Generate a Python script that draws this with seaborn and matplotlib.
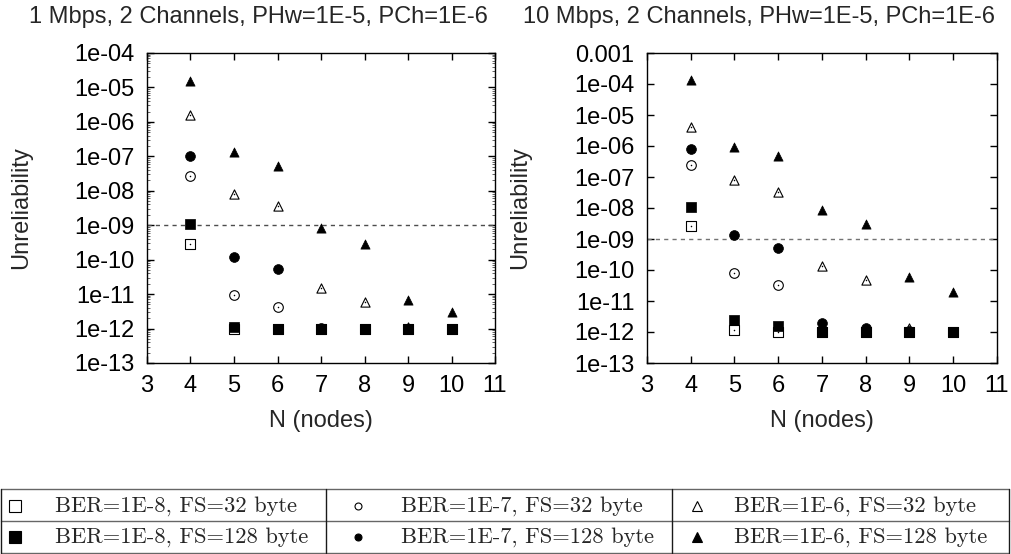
import numpy as np
import pandas as pd
import matplotlib
matplotlib.use("Agg")
import matplotlib.pyplot as plt
import seaborn as sns
from matplotlib.ticker import FixedLocator, FixedFormatter, LogLocator, NullFormatter, NullLocator

# x values (number of nodes)
nodes = [4, 5, 6, 7, 8, 9, 10]

# 1 Mbps panel
mb1_ber8_fs32 = [2.8e-10, 1.0e-12, 1.0e-12, 1.0e-12, 1.0e-12, 1.0e-12, 1.0e-12]
mb1_ber8_fs128 = [1.1e-9, 1.1e-12, 1.0e-12, 1.0e-12, 1.0e-12, 1.0e-12, 1.0e-12]
mb1_ber7_fs32 = [2.7e-8, 9.3e-12, 4.3e-12, 1.0e-12, 1.0e-12, 1.0e-12, 1.0e-12]
mb1_ber7_fs128 = [1.05e-7, 1.2e-10, 5.3e-11, 1.05e-12, 1.0e-12, 1.0e-12, 1.0e-12]
mb1_ber6_fs32 = [1.6e-6, 8.3e-9, 3.5e-9, 1.5e-11, 5.9e-12, 1.1e-12, 1.0e-12]
mb1_ber6_fs128 = [1.5e-5, 1.3e-7, 5.3e-8, 8.3e-10, 2.9e-10, 6.7e-12, 3.0e-12]

# 10 Mbps panel
mb10_ber8_fs32 = [2.7e-9, 1.15e-12, 1.0e-12, 1.0e-12, 1.0e-12, 1.0e-12, 1.0e-12]
mb10_ber8_fs128 = [1.1e-8, 2.5e-12, 1.55e-12, 1.0e-12, 1.0e-12, 1.0e-12, 1.0e-12]
mb10_ber7_fs32 = [2.5e-7, 8.1e-11, 3.2e-11, 1.0e-12, 1.0e-12, 1.0e-12, 1.0e-12]
mb10_ber7_fs128 = [8.1e-7, 1.3e-9, 5.1e-10, 1.9e-12, 1.3e-12, 1.05e-12, 1.0e-12]
mb10_ber6_fs32 = [4.0e-6, 8.0e-8, 3.4e-8, 1.35e-10, 4.7e-11, 1.3e-12, 1.0e-12]
mb10_ber6_fs128 = [1.3e-4, 9.0e-7, 4.7e-7, 8.5e-9, 3.0e-9, 5.9e-11, 1.9e-11]

threshold = 1e-9

titles = ["1 Mbps, 2 Channels, PHw=1E-5, PCh=1E-6",
          "10 Mbps, 2 Channels, PHw=1E-5, PCh=1E-6"]
x_ticks = [3, 4, 5, 6, 7, 8, 9, 10, 11]
y_ticks_left = [1e-4, 1e-5, 1e-6, 1e-7, 1e-8, 1e-9, 1e-10, 1e-11, 1e-12, 1e-13]
y_labels_left = ["1e-04", "1e-05", "1e-06", "1e-07", "1e-08", "1e-09",
                 "1e-10", "1e-11", "1e-12", "1e-13"]
y_ticks_right = [1e-3] + y_ticks_left
y_labels_right = ["0.001"] + y_labels_left

series_labels = ["BER=1E-8, FS=32 byte", "BER=1E-7, FS=32 byte", "BER=1E-6, FS=32 byte",
                 "BER=1E-8, FS=128 byte", "BER=1E-7, FS=128 byte", "BER=1E-6, FS=128 byte"]

panels = [
    {"BER=1E-8, FS=32 byte": mb1_ber8_fs32, "BER=1E-8, FS=128 byte": mb1_ber8_fs128,
     "BER=1E-7, FS=32 byte": mb1_ber7_fs32, "BER=1E-7, FS=128 byte": mb1_ber7_fs128,
     "BER=1E-6, FS=32 byte": mb1_ber6_fs32, "BER=1E-6, FS=128 byte": mb1_ber6_fs128},
    {"BER=1E-8, FS=32 byte": mb10_ber8_fs32, "BER=1E-8, FS=128 byte": mb10_ber8_fs128,
     "BER=1E-7, FS=32 byte": mb10_ber7_fs32, "BER=1E-7, FS=128 byte": mb10_ber7_fs128,
     "BER=1E-6, FS=32 byte": mb10_ber6_fs32, "BER=1E-6, FS=128 byte": mb10_ber6_fs128},
]

# marker, filled, size for each series
style = {
    "BER=1E-8, FS=32 byte": ("s", False, 52),
    "BER=1E-8, FS=128 byte": ("s", True, 60),
    "BER=1E-7, FS=32 byte": ("o", False, 48),
    "BER=1E-7, FS=128 byte": ("o", True, 50),
    "BER=1E-6, FS=32 byte": ("^", False, 44),
    "BER=1E-6, FS=128 byte": ("^", True, 44),
}
draw_order = ["BER=1E-6, FS=128 byte", "BER=1E-6, FS=32 byte", "BER=1E-7, FS=32 byte",
              "BER=1E-7, FS=128 byte", "BER=1E-8, FS=32 byte", "BER=1E-8, FS=128 byte"]

sns.set_style("ticks")
plt.rcParams["font.family"] = ["Liberation Sans", "DejaVu Sans"]
plt.rcParams["axes.linewidth"] = 1.0
FS = 17

W, H = 1012, 554
fig = plt.figure(figsize=(W / 100, H / 100), dpi=100)

ax_rects = [[147 / W, 1 - 363 / H, 348 / W, 310 / H],
            [647 / W, 1 - 363 / H, 350 / W, 310 / H]]
title_x = [258 / W, 759 / W]
y_sets = [(y_ticks_left, y_labels_left, 1e-13, 1e-4, True),
          (y_ticks_right, y_labels_right, 1e-13, 1e-3, False)]

for i in range(2):
    ax = fig.add_axes(ax_rects[i])
    rows = []
    for key, vals in panels[i].items():
        for n, v in zip(nodes, vals):
            rows.append({"N": n, "U": v, "series": key})
    df = pd.DataFrame(rows)

    ax.axhline(threshold, color="0.3" if i == 0 else "0.45", lw=1.0,
               dashes=(3, 3), zorder=1)

    for key in draw_order:
        marker, filled, size = style[key]
        sub = df[df["series"] == key]
        if filled:
            sns.scatterplot(data=sub, x="N", y="U", marker=marker, s=size,
                            color="black", edgecolor="black", linewidth=0.5,
                            ax=ax, zorder=3)
        else:
            sns.scatterplot(data=sub, x="N", y="U", marker=marker, s=size,
                            color="black", facecolor="white", edgecolor="black",
                            linewidth=0.8, ax=ax, zorder=3)
            sns.scatterplot(data=sub, x="N", y="U", marker="o", s=1.2,
                            color="black", linewidth=0, ax=ax, zorder=3)

    ticks, labels, ylo, yhi, minor = y_sets[i]
    ax.set_yscale("log")
    ax.set_ylim(ylo, yhi)
    ax.set_xlim(3, 11)
    ax.xaxis.set_major_locator(FixedLocator(x_ticks))
    ax.set_xticklabels([str(t) for t in x_ticks])
    ax.yaxis.set_major_locator(FixedLocator(ticks))
    ax.yaxis.set_major_formatter(FixedFormatter(labels))
    if minor:
        ax.yaxis.set_minor_locator(LogLocator(base=10, subs=(2, 3, 4, 5, 6, 7, 8, 9), numticks=20))
    else:
        ax.yaxis.set_minor_locator(NullLocator())
    ax.yaxis.set_minor_formatter(NullFormatter())
    ax.xaxis.set_minor_locator(NullLocator())

    ax.tick_params(axis="both", which="major", direction="in", length=5, width=1.0,
                   top=True, right=True, labelsize=FS, pad=9, colors="black")
    ax.tick_params(axis="y", which="minor", direction="in", length=2.5, width=0.5,
                   left=True, right=True)
    for sp in ax.spines.values():
        sp.set_visible(True)
        sp.set_color("black")

    ax.set_xlabel("N (nodes)", fontsize=FS, labelpad=9)
    ax.set_ylabel("Unreliability", fontsize=FS)
    ax.yaxis.set_label_coords(-0.33, 0.5)
    fig.text(title_x[i], 1 - 17 / H, titles[i], ha="center", va="center", fontsize=FS)

# legend table below the plots
lg = fig.add_axes([0, 0, 1, 1], zorder=-1)
lg.set_xlim(0, W)
lg.set_ylim(H, 0)
lg.axis("off")
top, mid, bot = 489, 521, 553
col_edges = [1, 326, 672, 1009]
for yy in (top, mid, bot):
    lg.plot([col_edges[0], col_edges[-1]], [yy, yy], color="0.4", lw=1.0)
for xx in col_edges:
    lg.plot([xx, xx], [top, bot], color="0.1", lw=1.0)

legend_marker_x = [15, 358, 697]
legend_text_x = [55, 401, 734]
row_y = [506, 537]
for j, lab in enumerate(series_labels):
    r, c = divmod(j, 3)
    marker, filled, size = style[lab]
    msize = {"s": 8.5, "o": 5.0, "^": 6.5}[marker]
    lg.plot(legend_marker_x[c], row_y[r], marker=marker, markersize=msize,
            markerfacecolor="black" if filled else "white",
            markeredgecolor="black", markeredgewidth=0.8, linestyle="none")
    lg.text(legend_text_x[c], row_y[r], lab, ha="left", va="center",
            fontsize=16.2, family="cmr10")

fig.savefig("out.png", dpi=100)
